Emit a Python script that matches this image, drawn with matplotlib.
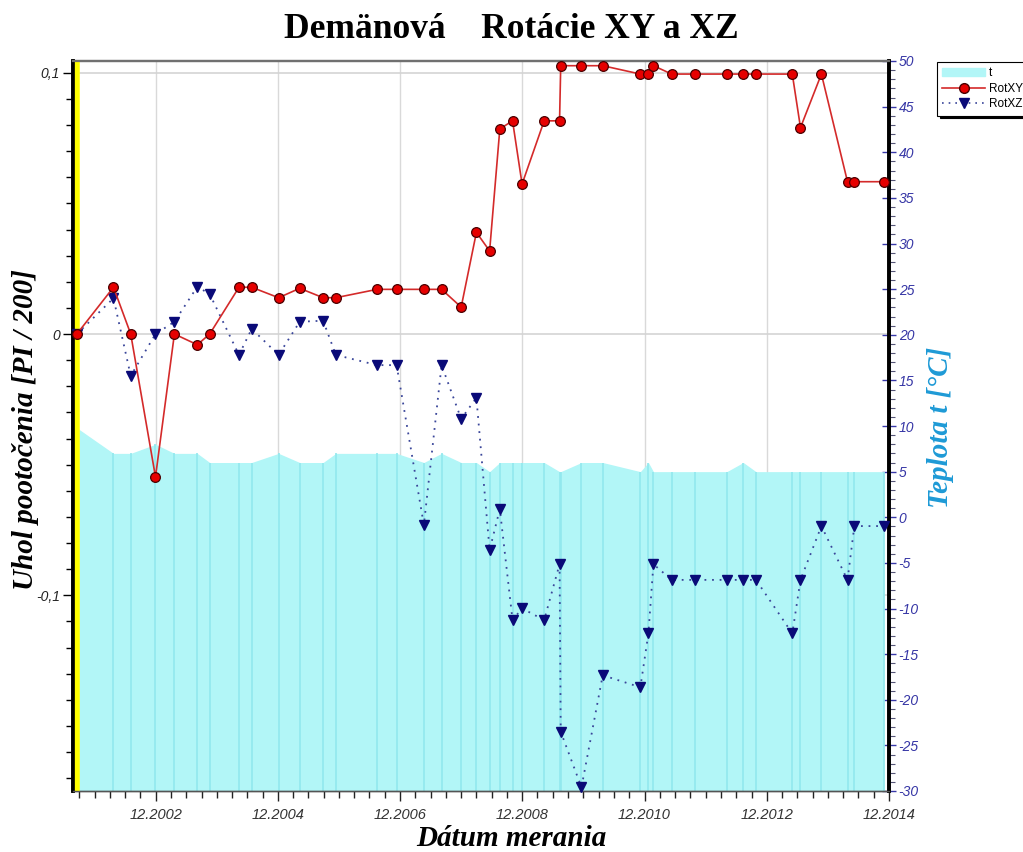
import matplotlib
matplotlib.use("Agg")
import matplotlib.pyplot as plt
import matplotlib.dates as mdates
import matplotlib.transforms as mtransforms
from matplotlib.patches import Patch
from matplotlib.lines import Line2D
import pandas as pd

plt.rcParams["axes.unicode_minus"] = False

# ---------------- data ----------------
dates = [
    "2001-08-17", "2002-03-24", "2002-07-05", "2002-11-30", "2003-03-23",
    "2003-08-07", "2003-10-20", "2004-04-12", "2004-06-27", "2004-12-05",
    "2005-04-10", "2005-08-28", "2005-11-12", "2006-07-16", "2006-11-10",
    "2007-04-22", "2007-08-06", "2007-12-01", "2008-03-01", "2008-05-19",
    "2008-07-19", "2008-10-03", "2008-11-29", "2009-04-10", "2009-07-11",
    "2009-07-18", "2009-11-19", "2010-03-26", "2010-11-06", "2010-12-24",
    "2011-01-23", "2011-05-12", "2011-09-30", "2012-04-06", "2012-07-13",
    "2012-09-27", "2013-05-02", "2013-06-20", "2013-10-23", "2014-03-28",
    "2014-05-08", "2014-11-01",
]
rot_xy = [
    0.0, 0.0179, 0.0, -0.0547, 0.0,
    -0.0041, 0.0, 0.0179, 0.0179, 0.0139,
    0.0175, 0.0139, 0.0139, 0.0171, 0.0171,
    0.0171, 0.0171, 0.0103, 0.0389, 0.0318,
    0.0785, 0.0816, 0.0574, 0.0816, 0.0816,
    0.1027, 0.1027, 0.1027, 0.0995, 0.0995,
    0.1027, 0.0995, 0.0995, 0.0995, 0.0995,
    0.0995, 0.0995, 0.0790, 0.0995, 0.0583,
    0.0583, 0.0583,
]
rot_xz = [
    0.0, 0.0137, -0.0160, 0.0, 0.0047,
    0.0181, 0.0153, -0.0080, 0.0020, -0.0080,
    0.0047, 0.0051, -0.0080, -0.0119, -0.0119,
    -0.0731, -0.0119, -0.0325, -0.0244, -0.0827,
    -0.0670, -0.1095, -0.1050, -0.1095, -0.0881,
    -0.1522, -0.1735, -0.1306, -0.1352, -0.1146,
    -0.0881, -0.0941, -0.0941, -0.0941, -0.0941,
    -0.0941, -0.1146, -0.0941, -0.0735, -0.0941,
    -0.0735, -0.0735,
]
temp = [
    9.8, 7, 7, 8, 7,
    7, 6, 6, 6, 7,
    6, 6, 7, 7, 7,
    6, 7, 6, 6, 5,
    6, 6, 6, 6, 5,
    5, 6, 6, 5, 6,
    5, 5, 5, 5, 6,
    5, 5, 5, 5, 5,
    5, 5,
]
x_start, x_end = "2001-07-22", "2014-12-01"
left_ticks = [0.1, 0.0, -0.1]
left_tick_labels = ["0,1", "0", "-0,1"]
right_ticks = list(range(50, -31, -5))

title = "Demänová    Rotácie XY a XZ"
xlabel = "Dátum merania"
ylabel_left = "Uhol pootočenia [PI / 200]"
ylabel_right = "Teplota t [°C]"
legend_labels = ["t", "RotXY", "RotXZ"]

# ---------------- figure ----------------
W, H = 1023, 852
fig = plt.figure(figsize=(W / 100, H / 100), dpi=100)
fig.patch.set_facecolor("white")

ax = fig.add_axes([72.5 / W, 1 - 791 / H, (889 - 72.5) / W, (791 - 61) / H])
ax2 = ax.twinx()
ax.set_zorder(ax2.get_zorder() + 1)
ax.patch.set_visible(False)
ax2.patch.set_visible(True)
ax2.patch.set_facecolor("white")

d = pd.to_datetime(dates)
xs = mdates.date2num(d)

ax.set_xlim(mdates.date2num(pd.Timestamp(x_start)), mdates.date2num(pd.Timestamp(x_end)))
ax.set_ylim(-0.1749, 0.1045)
ax2.set_ylim(-30, 50)

# x ticks
ax.xaxis.set_major_locator(mdates.YearLocator(base=2, month=12, day=1))
ax.xaxis.set_minor_locator(mdates.MonthLocator(bymonth=[3, 6, 9, 12], bymonthday=1))
ax.xaxis.set_major_formatter(mdates.DateFormatter("%m.%Y"))

# temperature area (right axis)
fill_c = "#b2f6f7"
seam_c = "#92e8ee"
ax2.fill_between(xs, temp, -30, color=fill_c, lw=0, zorder=2)
ax2.vlines(xs, -30, temp, color=seam_c, lw=1.2, zorder=2.1)

# grid drawn on the lower axes so that the area hides it
for xt in ax.get_xticks():
    ax2.axvline(xt, color="#d9d9d9", lw=1.0, zorder=0.5)
blend = mtransforms.blended_transform_factory(ax2.transAxes, ax.transData)
for yt in left_ticks:
    ax2.plot([0, 1], [yt, yt], transform=blend, color="#d4d4d4", lw=1.2, zorder=0.5)

# yellow line at the start (zero measurement)
ax.axvline(xs[0], color="#ffff00", lw=4, zorder=1)

# series
ax.plot(xs, rot_xy, color="#d42a2a", lw=1.2, marker="o", ms=7,
        mfc="#e60000", mec="#4a0000", mew=0.9, zorder=4, clip_on=False)
ax.plot(xs, rot_xz, color="#3a469a", lw=1.3, ls=(0, (1, 3.2)), marker="v", ms=7.5,
        mfc="#0a0a78", mec="#0a0a78", zorder=3, clip_on=False)

# ticks styling
ax.set_yticks(left_ticks)
ax.set_yticklabels(left_tick_labels)
ax.yaxis.set_minor_locator(matplotlib.ticker.MultipleLocator(0.01))
ax.tick_params(axis="y", which="major", direction="out", length=7, width=1.0, colors="black", pad=2)
ax.tick_params(axis="y", which="minor", direction="out", length=5, width=1.0, colors="black")
ax.tick_params(axis="x", which="major", direction="out", length=7, width=1.0, colors="#222222", pad=5)
ax.tick_params(axis="x", which="minor", direction="out", length=5, width=1.0, colors="#222222")
for lab in ax.get_yticklabels():
    lab.set_fontfamily("Liberation Sans")
    lab.set_fontstyle("italic")
    lab.set_fontsize(10)
    lab.set_color("#222222")
for lab in ax.get_xticklabels():
    lab.set_fontfamily("Liberation Sans")
    lab.set_fontstyle("italic")
    lab.set_fontsize(10.5)
    lab.set_color("#333333")

ax2.set_yticks(right_ticks)
ax2.yaxis.set_minor_locator(matplotlib.ticker.MultipleLocator(1))
ax2.tick_params(axis="y", which="major", direction="inout", length=10, width=1.0,
                colors="#3838a8", pad=2)
ax2.tick_params(axis="y", which="minor", direction="out", length=4, width=0.8, color="#555577")
for lab in ax2.get_yticklabels():
    lab.set_fontfamily("Liberation Sans")
    lab.set_fontstyle("italic")
    lab.set_fontsize(10)
    lab.set_color("#3535a5")

# spines
for a in (ax, ax2):
    a.spines["left"].set_linewidth(2.6)
    a.spines["left"].set_color("black")
    a.spines["right"].set_linewidth(2.6)
    a.spines["right"].set_color("black")
    a.spines["top"].set_linewidth(1.6)
    a.spines["top"].set_color("#707070")
    a.spines["bottom"].set_linewidth(1.0)
    a.spines["bottom"].set_color("#555555")

# texts
fig.text(0.5, 1 - 29 / H, title, ha="center", va="center",
         fontfamily="Liberation Serif", fontweight="bold", fontsize=25.5)
fig.text(0.5, 1 - 838 / H, xlabel, ha="center", va="center",
         fontfamily="Liberation Serif", fontweight="bold", fontstyle="italic", fontsize=21)
fig.text(26 / W, 1 - 430 / H, ylabel_left, ha="center", va="center", rotation=90,
         fontfamily="Liberation Serif", fontweight="bold", fontstyle="italic", fontsize=21)
fig.text(941 / W, 1 - 427 / H, ylabel_right, ha="center", va="center", rotation=90,
         color="#1e9ad6",
         fontfamily="Liberation Serif", fontweight="bold", fontstyle="italic", fontsize=21)

# legend
handles = [
    Patch(facecolor=fill_c, edgecolor=fill_c),
    Line2D([], [], color="#d42a2a", lw=1.2, marker="o", ms=7, mfc="#e60000", mec="#4a0000"),
    Line2D([], [], color="#3a469a", lw=1.2, ls=(0, (1, 3)), marker="v", ms=7,
           mfc="#0a0a78", mec="#0a0a78"),
]
leg = fig.legend(handles, legend_labels, loc="upper left",
                 bbox_to_anchor=(937 / W, 1 - 62 / H), frameon=True, fancybox=False,
                 shadow={"color": "black", "alpha": 1.0},
                 prop={"family": "Liberation Sans", "size": 8.5},
                 borderpad=0.45, labelspacing=0.3, handlelength=3.6, handletextpad=0.35,
                 borderaxespad=0)
leg.get_frame().set_edgecolor("black")
leg.get_frame().set_linewidth(0.8)

fig.savefig("out.png", dpi=100, facecolor="white")
